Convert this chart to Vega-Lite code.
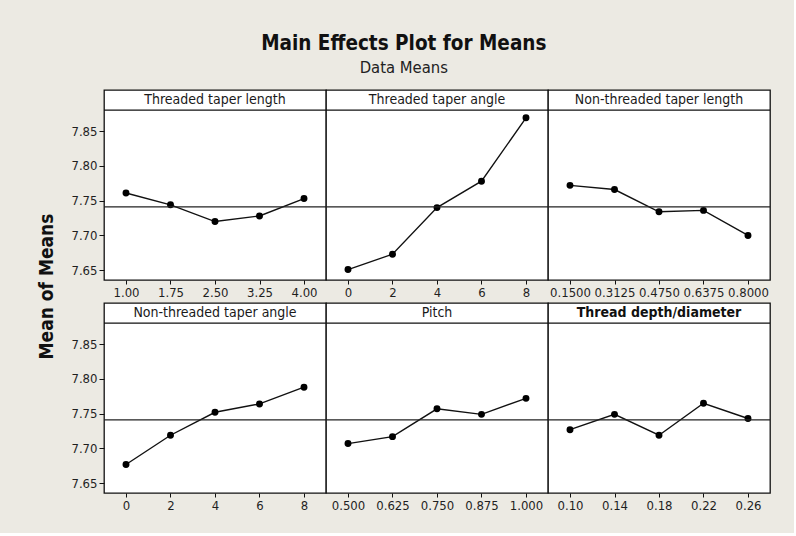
{
  "$schema": "https://vega.github.io/schema/vega-lite/v6.json",
  "background": "#ECEAE3",
  "padding": {"left": 36, "top": 34, "right": 22, "bottom": 20},
  "datasets": {
    "effects": [
      {"factor": "Threaded taper length", "level": 1.00, "mean": 7.761},
      {"factor": "Threaded taper length", "level": 1.75, "mean": 7.744},
      {"factor": "Threaded taper length", "level": 2.50, "mean": 7.720},
      {"factor": "Threaded taper length", "level": 3.25, "mean": 7.728},
      {"factor": "Threaded taper length", "level": 4.00, "mean": 7.753},
      {"factor": "Threaded taper angle", "level": 0, "mean": 7.651},
      {"factor": "Threaded taper angle", "level": 2, "mean": 7.673},
      {"factor": "Threaded taper angle", "level": 4, "mean": 7.740},
      {"factor": "Threaded taper angle", "level": 6, "mean": 7.778},
      {"factor": "Threaded taper angle", "level": 8, "mean": 7.869},
      {"factor": "Non-threaded taper length", "level": 0.15, "mean": 7.772},
      {"factor": "Non-threaded taper length", "level": 0.3125, "mean": 7.766},
      {"factor": "Non-threaded taper length", "level": 0.475, "mean": 7.734},
      {"factor": "Non-threaded taper length", "level": 0.6375, "mean": 7.736},
      {"factor": "Non-threaded taper length", "level": 0.8, "mean": 7.700},
      {"factor": "Non-threaded taper angle", "level": 0, "mean": 7.677},
      {"factor": "Non-threaded taper angle", "level": 2, "mean": 7.719},
      {"factor": "Non-threaded taper angle", "level": 4, "mean": 7.752},
      {"factor": "Non-threaded taper angle", "level": 6, "mean": 7.764},
      {"factor": "Non-threaded taper angle", "level": 8, "mean": 7.788},
      {"factor": "Pitch", "level": 0.5, "mean": 7.707},
      {"factor": "Pitch", "level": 0.625, "mean": 7.717},
      {"factor": "Pitch", "level": 0.75, "mean": 7.757},
      {"factor": "Pitch", "level": 0.875, "mean": 7.749},
      {"factor": "Pitch", "level": 1.0, "mean": 7.772},
      {"factor": "Thread depth/diameter", "level": 0.10, "mean": 7.727},
      {"factor": "Thread depth/diameter", "level": 0.14, "mean": 7.749},
      {"factor": "Thread depth/diameter", "level": 0.18, "mean": 7.719},
      {"factor": "Thread depth/diameter", "level": 0.22, "mean": 7.765},
      {"factor": "Thread depth/diameter", "level": 0.26, "mean": 7.743}
    ]
  },
  "title": {
    "text": "Main Effects Plot for Means",
    "subtitle": "Data Means",
    "anchor": "middle",
    "frame": "bounds",
    "fontSize": 20.5,
    "fontWeight": "bold",
    "color": "#111",
    "subtitleFontSize": 16.5,
    "subtitleColor": "#222",
    "subtitlePadding": 5,
    "offset": 13
  },
  "columns": 3,
  "spacing": {"row": 23, "column": 0},
  "bounds": "flush",
  "concat": [
    {
      "width": 222, "height": 190,
      "resolve": {"axis": {"x": "independent", "y": "independent"}},
      "layer": [
        {"data": {"name": "effects"}, "transform": [{"filter": "datum.factor === 'Threaded taper length'"}],
         "encoding": {
           "x": {"field": "level", "type": "quantitative", "scale": {"padding": 22, "nice": false, "zero": false}, "axis": {"values": [1, 1.75, 2.5, 3.25, 4], "format": ".2f", "title": null}},
           "y": {"field": "mean", "type": "quantitative", "scale": {"domain": [7.636, 7.909], "nice": false, "zero": false}, "axis": {"values": [7.65, 7.7, 7.75, 7.8, 7.85], "format": ".2f", "tickSize": 5, "title": "Mean of Means", "titleX": -58, "titleY": 196, "titleAngle": 270, "titleAlign": "center", "titleBaseline": "middle"}}
         },
         "layer": [
           {"mark": {"type": "line", "color": "#111", "strokeWidth": 1.4}},
           {"mark": {"type": "point", "filled": true, "color": "#000", "opacity": 1, "size": 48}}
         ]},
        {"data": {"values": [{}]}, "mark": {"type": "rule", "color": "#111", "strokeWidth": 1.3}, "encoding": {"y": {"datum": 7.88, "type": "quantitative", "axis": null}}},
        {"data": {"name": "effects"}, "mark": {"type": "rule", "color": "#222", "strokeWidth": 1.1}, "encoding": {"y": {"aggregate": "mean", "field": "mean", "type": "quantitative", "axis": null}}},
        {"data": {"name": "effects"}, "transform": [{"filter": "datum.factor === 'Threaded taper length'"}],
         "mark": {"type": "text", "fontSize": 14, "color": "#1a1a1a", "baseline": "middle"},
         "encoding": {"x": {"aggregate": "mean", "field": "level", "type": "quantitative", "axis": null}, "y": {"datum": 7.8945, "type": "quantitative", "axis": null}, "text": {"field": "factor"}}}
      ]
    },
    {
      "width": 222, "height": 190,
      "resolve": {"axis": {"x": "independent", "y": "independent"}},
      "layer": [
        {"data": {"name": "effects"}, "transform": [{"filter": "datum.factor === 'Threaded taper angle'"}],
         "encoding": {
           "x": {"field": "level", "type": "quantitative", "scale": {"padding": 22, "nice": false, "zero": false}, "axis": {"values": [0, 2, 4, 6, 8], "format": "d", "title": null}},
           "y": {"field": "mean", "type": "quantitative", "scale": {"domain": [7.636, 7.909], "nice": false, "zero": false}, "axis": null}
         },
         "layer": [
           {"mark": {"type": "line", "color": "#111", "strokeWidth": 1.4}},
           {"mark": {"type": "point", "filled": true, "color": "#000", "opacity": 1, "size": 48}}
         ]},
        {"data": {"values": [{}]}, "mark": {"type": "rule", "color": "#111", "strokeWidth": 1.3}, "encoding": {"y": {"datum": 7.88, "type": "quantitative", "axis": null}}},
        {"data": {"name": "effects"}, "mark": {"type": "rule", "color": "#222", "strokeWidth": 1.1}, "encoding": {"y": {"aggregate": "mean", "field": "mean", "type": "quantitative", "axis": null}}},
        {"data": {"name": "effects"}, "transform": [{"filter": "datum.factor === 'Threaded taper angle'"}],
         "mark": {"type": "text", "fontSize": 14, "color": "#1a1a1a", "baseline": "middle"},
         "encoding": {"x": {"aggregate": "mean", "field": "level", "type": "quantitative", "axis": null}, "y": {"datum": 7.8945, "type": "quantitative", "axis": null}, "text": {"field": "factor"}}}
      ]
    },
    {
      "width": 222, "height": 190,
      "resolve": {"axis": {"x": "independent", "y": "independent"}},
      "layer": [
        {"data": {"name": "effects"}, "transform": [{"filter": "datum.factor === 'Non-threaded taper length'"}],
         "encoding": {
           "x": {"field": "level", "type": "quantitative", "scale": {"padding": 22, "nice": false, "zero": false}, "axis": {"values": [0.15, 0.3125, 0.475, 0.6375, 0.8], "format": ".4f", "title": null}},
           "y": {"field": "mean", "type": "quantitative", "scale": {"domain": [7.636, 7.909], "nice": false, "zero": false}, "axis": null}
         },
         "layer": [
           {"mark": {"type": "line", "color": "#111", "strokeWidth": 1.4}},
           {"mark": {"type": "point", "filled": true, "color": "#000", "opacity": 1, "size": 48}}
         ]},
        {"data": {"values": [{}]}, "mark": {"type": "rule", "color": "#111", "strokeWidth": 1.3}, "encoding": {"y": {"datum": 7.88, "type": "quantitative", "axis": null}}},
        {"data": {"name": "effects"}, "mark": {"type": "rule", "color": "#222", "strokeWidth": 1.1}, "encoding": {"y": {"aggregate": "mean", "field": "mean", "type": "quantitative", "axis": null}}},
        {"data": {"name": "effects"}, "transform": [{"filter": "datum.factor === 'Non-threaded taper length'"}],
         "mark": {"type": "text", "fontSize": 14, "color": "#1a1a1a", "baseline": "middle"},
         "encoding": {"x": {"aggregate": "mean", "field": "level", "type": "quantitative", "axis": null}, "y": {"datum": 7.8945, "type": "quantitative", "axis": null}, "text": {"field": "factor"}}}
      ]
    },
    {
      "width": 222, "height": 190,
      "resolve": {"axis": {"x": "independent", "y": "independent"}},
      "layer": [
        {"data": {"name": "effects"}, "transform": [{"filter": "datum.factor === 'Non-threaded taper angle'"}],
         "encoding": {
           "x": {"field": "level", "type": "quantitative", "scale": {"padding": 22, "nice": false, "zero": false}, "axis": {"values": [0, 2, 4, 6, 8], "format": "d", "title": null}},
           "y": {"field": "mean", "type": "quantitative", "scale": {"domain": [7.636, 7.909], "nice": false, "zero": false}, "axis": {"values": [7.65, 7.7, 7.75, 7.8, 7.85], "format": ".2f", "tickSize": 5, "title": null}}
         },
         "layer": [
           {"mark": {"type": "line", "color": "#111", "strokeWidth": 1.4}},
           {"mark": {"type": "point", "filled": true, "color": "#000", "opacity": 1, "size": 48}}
         ]},
        {"data": {"values": [{}]}, "mark": {"type": "rule", "color": "#111", "strokeWidth": 1.3}, "encoding": {"y": {"datum": 7.88, "type": "quantitative", "axis": null}}},
        {"data": {"name": "effects"}, "mark": {"type": "rule", "color": "#222", "strokeWidth": 1.1}, "encoding": {"y": {"aggregate": "mean", "field": "mean", "type": "quantitative", "axis": null}}},
        {"data": {"name": "effects"}, "transform": [{"filter": "datum.factor === 'Non-threaded taper angle'"}],
         "mark": {"type": "text", "fontSize": 14, "color": "#1a1a1a", "baseline": "middle"},
         "encoding": {"x": {"aggregate": "mean", "field": "level", "type": "quantitative", "axis": null}, "y": {"datum": 7.8945, "type": "quantitative", "axis": null}, "text": {"field": "factor"}}}
      ]
    },
    {
      "width": 222, "height": 190,
      "resolve": {"axis": {"x": "independent", "y": "independent"}},
      "layer": [
        {"data": {"name": "effects"}, "transform": [{"filter": "datum.factor === 'Pitch'"}],
         "encoding": {
           "x": {"field": "level", "type": "quantitative", "scale": {"padding": 22, "nice": false, "zero": false}, "axis": {"values": [0.5, 0.625, 0.75, 0.875, 1.0], "format": ".3f", "title": null}},
           "y": {"field": "mean", "type": "quantitative", "scale": {"domain": [7.636, 7.909], "nice": false, "zero": false}, "axis": null}
         },
         "layer": [
           {"mark": {"type": "line", "color": "#111", "strokeWidth": 1.4}},
           {"mark": {"type": "point", "filled": true, "color": "#000", "opacity": 1, "size": 48}}
         ]},
        {"data": {"values": [{}]}, "mark": {"type": "rule", "color": "#111", "strokeWidth": 1.3}, "encoding": {"y": {"datum": 7.88, "type": "quantitative", "axis": null}}},
        {"data": {"name": "effects"}, "mark": {"type": "rule", "color": "#222", "strokeWidth": 1.1}, "encoding": {"y": {"aggregate": "mean", "field": "mean", "type": "quantitative", "axis": null}}},
        {"data": {"name": "effects"}, "transform": [{"filter": "datum.factor === 'Pitch'"}],
         "mark": {"type": "text", "fontSize": 14, "color": "#1a1a1a", "baseline": "middle"},
         "encoding": {"x": {"aggregate": "mean", "field": "level", "type": "quantitative", "axis": null}, "y": {"datum": 7.8945, "type": "quantitative", "axis": null}, "text": {"field": "factor"}}}
      ]
    },
    {
      "width": 222, "height": 190,
      "resolve": {"axis": {"x": "independent", "y": "independent"}},
      "layer": [
        {"data": {"name": "effects"}, "transform": [{"filter": "datum.factor === 'Thread depth/diameter'"}],
         "encoding": {
           "x": {"field": "level", "type": "quantitative", "scale": {"padding": 22, "nice": false, "zero": false}, "axis": {"values": [0.1, 0.14, 0.18, 0.22, 0.26], "format": ".2f", "title": null}},
           "y": {"field": "mean", "type": "quantitative", "scale": {"domain": [7.636, 7.909], "nice": false, "zero": false}, "axis": null}
         },
         "layer": [
           {"mark": {"type": "line", "color": "#111", "strokeWidth": 1.4}},
           {"mark": {"type": "point", "filled": true, "color": "#000", "opacity": 1, "size": 48}}
         ]},
        {"data": {"values": [{}]}, "mark": {"type": "rule", "color": "#111", "strokeWidth": 1.3}, "encoding": {"y": {"datum": 7.88, "type": "quantitative", "axis": null}}},
        {"data": {"name": "effects"}, "mark": {"type": "rule", "color": "#222", "strokeWidth": 1.1}, "encoding": {"y": {"aggregate": "mean", "field": "mean", "type": "quantitative", "axis": null}}},
        {"data": {"name": "effects"}, "transform": [{"filter": "datum.factor === 'Thread depth/diameter'"}],
         "mark": {"type": "text", "fontSize": 14, "fontWeight": "bold", "color": "#111", "baseline": "middle"},
         "encoding": {"x": {"aggregate": "mean", "field": "level", "type": "quantitative", "axis": null}, "y": {"datum": 7.8945, "type": "quantitative", "axis": null}, "text": {"field": "factor"}}}
      ]
    }
  ],
  "config": {
    "font": "DejaVu Sans Condensed, DejaVu Sans",
    "view": {"stroke": "#111", "strokeWidth": 1.3, "fill": "white"},
    "axis": {
      "domain": false,
      "grid": false,
      "ticks": true,
      "tickColor": "#111",
      "tickSize": 4,
      "labelFontSize": 13,
      "labelColor": "#1f1f1f",
      "labelPadding": 2,
      "labelFlush": false,
      "labelOverlap": false,
      "titleFontSize": 19,
      "titleFontWeight": "bold",
      "titleColor": "#111"
    }
  }
}
